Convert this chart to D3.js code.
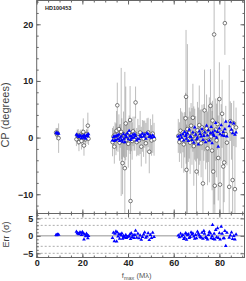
<!DOCTYPE html>
<html>
<head>
<meta charset="utf-8">
<script src="https://cdn.jsdelivr.net/npm/d3@7"></script>
<style>
  body { margin: 0; background: #fff; }
  svg { display: block; }
</style>
</head>
<body>
<div id="chart"></div>
<script>
const width = 246, height = 281
const plotLeft = 36.7, plotRight = 244.5
const mainTop = 0.5, mainBottom = 213.5, errBottom = 257.5
const axisColor = "#666"
const fontFamily = "'Liberation Sans', Arial, sans-serif"

// spatial frequency f_max (M lambda) for each closure phase
const fmax = [
  8.5, 8.8, 9.1, 9.6,
  17.4, 17.8, 18.2, 18.5, 18.9, 19.3, 19.6, 20.0, 20.4, 20.7, 21.0, 21.4, 21.8, 22.1, 22.4, 22.7,
  33.2, 33.6, 34.0, 34.3, 34.7, 35.0, 35.3, 35.6, 36.0, 36.3,
  36.6, 37.0, 37.3, 37.6, 38.0, 38.3, 38.6, 39.0, 39.3, 39.7,
  40.1, 40.5, 40.9, 41.1, 41.4, 41.8, 42.2, 42.6, 43.0, 43.3,
  43.8, 44.3, 44.8, 45.3, 45.8, 46.3, 46.8, 47.3, 47.8, 48.3,
  48.8, 49.3, 49.8, 50.3, 50.8, 51.4,
  62.0, 62.5, 63.0, 63.5, 64.0, 64.4, 64.8, 65.2, 65.4, 65.6,
  66.0, 66.4, 66.8, 67.2, 67.6, 68.0, 68.4, 68.8, 69.2, 69.6,
  70.0, 70.4, 70.8, 71.2, 71.6, 72.0, 72.4, 72.8, 73.2, 73.5,
  74.0, 74.4, 74.8, 75.2, 75.6, 76.1, 76.4, 76.8, 77.0, 77.3,
  77.7, 78.0, 78.4, 78.8, 79.2, 79.5, 80.0, 80.3, 80.8, 81.2,
  81.7, 82.1, 82.4, 82.8, 83.3, 84.3, 84.8, 85.3, 85.8, 86.3,
  86.8, 87.3
]

// observed closure phase (degrees)
const cpObs = [
  0.9, 0.6, 0.8, -0.1,
  -0.3, 0.4, 0.1, -0.8, 0.1, 0.5, -0.6, 0.3, 1.0, -1.4, 0.2, -0.3, 0.6, 0.1, 2.1, -0.2,
  -0.8, 0.2, -1.6, 0.5, -0.3, 1.2, 5.7, -0.5, 1.5, -0.9,
  0.3, 1.0, -0.2, -4.5, 0.6, -0.7, -5.4, 2.5, -0.4, 0.2,
  -1.1, 0.8, 3.1, -11.2, 0.4, -0.6, 1.1, -0.3, 0.7, 6.2,
  -0.8, 0.1, -0.5, 0.9, -1.6, 0.3, -0.2, 0.6, -1.0, 0.4,
  0.9, -2.5, 0.2, -0.5, 0.7, -0.3,
  0.3, -0.8, 1.2, -0.4, 0.9, -1.2, 0.5, 3.4, 7.2, -5.7,
  1.5, -0.3, 0.8, -0.9, 2.1, 0.2, 3.5, -1.5, 0.6, -0.2,
  -6.0, 1.3, -0.7, 2.2, 0.4, -1.0, 1.8, -8.1, 0.9, 4.8,
  -0.6, 1.6, -1.9, 0.7, -0.4, 5.6, 0.2, -2.3, 3.0, -6.0,
  18.2, -8.5, 1.4, -0.5, 2.4, -3.6, 6.8, -8.3, 0.9, 4.2,
  -5.1, -4.4, 20.2, 0.6, -0.9, -8.7, 2.9, 1.1, -7.5, 2.5,
  -9.1, 1.8
]

// 1-sigma error on observed closure phase (degrees)
const cpSig = [
  0.8, 1.0, 0.9, 2.6,
  1.2, 1.0, 1.4, 1.6, 1.1, 0.9, 1.5, 1.2, 2.4, 1.8, 1.0, 1.3, 0.9, 1.2, 2.3, 1.1,
  2.5, 1.8, 3.0, 2.2, 2.8, 3.5, 4.0, 2.0, 2.6, 3.2,
  2.1, 11.3, 3.6, 5.5, 4.0, 2.9, 17.0, 6.5, 3.0, 2.4,
  4.2, 3.1, 6.0, 11.5, 2.8, 3.3, 2.6, 2.0, 3.0, 2.8,
  2.5, 3.2, 2.7, 3.8, 3.5, 2.8, 3.2, 2.4, 3.6, 3.0,
  2.6, 3.8, 3.1, 2.7, 3.4, 2.9,
  3.0, 3.5, 4.0, 5.0, 3.5, 5.0, 4.0, 4.5, 11.8, 8.0,
  15.0, 4.0, 4.5, 5.5, 4.0, 5.0, 6.0, 7.0, 4.5, 4.0,
  7.5, 5.0, 6.0, 7.0, 4.5, 6.0, 4.0, 9.5, 5.0, 7.2,
  5.0, 6.0, 6.5, 5.0, 7.5, 6.5, 6.0, 7.0, 3.5, 9.5,
  30.0, 10.0, 5.5, 6.5, 4.5, 7.5, 6.5, 9.0, 5.0, 6.0,
  8.5, 7.0, 5.6, 5.0, 4.0, 21.5, 3.5, 5.0, 9.0, 4.0,
  10.0, 3.5
]

// model closure phase (degrees)
const cpModel = [
  0.85, 0.75, 0.8, 0.7,
  0.5, 0.4, 0.2, 0.1, 0.4, 0.3, -0.1, 0.2, 0.3, 0.0, 0.4, -0.2, 0.3, 0.5, 0.2, 0.6,
  -0.5, 0.1, -0.6, 0.3, -0.4, 0.2, 0.4, -0.3, 0.5, -0.6,
  0.0, 0.2, -0.4, -0.7, 0.6, -0.2, -0.8, 0.4, 0.1, 0.8,
  -0.3, 1.2, 0.3, -0.4, 0.2, -0.1, 0.5, 0.0, 0.6, 0.3,
  -0.5, -0.2, -0.3, 0.4, 0.1, 0.7, 0.2, 0.5, -0.2, 0.8,
  0.6, 0.1, 0.3, 0.0, 0.4, 0.1,
  0.2, -0.3, 0.4, 0.0, 0.6, -0.5, 1.0, 0.3, 0.5, -0.2,
  0.8, -0.6, 1.4, 0.2, 0.1, -0.4, 0.9, -0.9, 1.8, 0.5,
  -0.3, 0.0, -1.2, 1.1, 0.6, 0.2, 1.5, -0.4, 0.3, 0.9,
  -0.8, 2.1, 0.4, 1.3, -0.5, 0.8, 1.9, -1.0, 0.9, 0.5,
  0.3, 1.2, 2.6, 0.0, 1.0, -1.6, 1.6, 0.6, 2.2, 0.4,
  1.0, 0.3, 1.5, 2.8, 0.2, 2.0, 2.7, 1.4, 0.8, 2.5,
  0.5, 0.9
]

// residuals (sigma)
const cpResid = [
  0.3, 0.2, 0.4, 0.35,
  1.2, 0.8, 0.6, 0.5, 1.0, 0.9, 0.3, 1.1, 0.7, -1.0, 0.4, -0.1, 0.6, 0.2, -0.7, 0.0,
  -0.6, 0.9, -1.5, 0.6, 1.3, -1.6, 1.0, -0.2, 0.5, -0.8,
  0.4, 0.1, 0.7, -0.8, 0.0, -0.5, -0.3, 0.3, -0.6, -0.3,
  -0.2, -0.1, 0.5, -0.9, 0.8, -0.4, 0.2, -0.6, 0.3, 1.5,
  -0.5, 0.6, -0.7, 0.1, -1.1, -0.3, 0.4, 1.0, -0.5, -0.2,
  0.8, -1.2, 0.3, -0.6, 0.9, -0.3,
  0.1, -0.4, 0.6, -0.2, 0.3, -0.9, -0.5, 0.8, 0.6, -1.1,
  0.2, 0.5, -0.6, -0.3, 1.0, 0.4, 0.7, -0.2, -0.8, 0.3,
  -0.7, 1.2, 0.6, 0.1, -0.3, -0.5, 0.9, -0.8, 1.4, 0.6,
  -0.4, -0.6, -1.0, 0.3, 1.1, 0.7, -0.7, -0.1, 3.1, -0.9,
  0.6, -1.0, 1.7, -0.4, 2.2, -0.6, 0.8, -1.0, 2.6, 0.6,
  -0.7, -0.7, 1.4, -2.9, 0.9, -0.5, 0.1, 1.0, -0.9, 0.0,
  -1.0, 0.4
]

const xTicks = [0, 20, 40, 60, 80]
const cpTicks = [-10, 0, 10, 20]
const errTicks = [-5, 0, 5]
const errLevels = [-5, -3, 3, 5]
const title = "HD100453"

const points = fmax.map((f, i) => ({
  f: f, obs: cpObs[i], sig: cpSig[i], model: cpModel[i], resid: cpResid[i]
}))

const xScale = d3.scaleLinear().domain([0, 91]).range([plotLeft, plotRight])
const yScale = d3.scaleLinear().domain([-13.4, 24.2]).range([mainBottom, mainTop])
const eScale = d3.scaleLinear().domain([-6.2, 6.4]).range([errBottom, mainBottom])

const svg = d3.select("#chart").append("svg")
  .attr("width", width)
  .attr("height", height)

const defs = svg.append("defs")
defs.append("clipPath").attr("id", "clipMain").append("rect")
  .attr("x", plotLeft).attr("y", mainTop)
  .attr("width", plotRight - plotLeft).attr("height", mainBottom - mainTop)
defs.append("clipPath").attr("id", "clipErr").append("rect")
  .attr("x", plotLeft).attr("y", mainBottom)
  .attr("width", plotRight - plotLeft).attr("height", errBottom - mainBottom)

function addAxis(axis, tx, ty) {
  const g = svg.append("g")
    .attr("transform", "translate(" + tx + "," + ty + ")")
    .call(axis)
  g.select(".domain").remove()
  g.attr("font-family", fontFamily).attr("font-size", 9).attr("font-weight", "bold")
  g.selectAll(".tick line").attr("stroke", axisColor)
  g.selectAll(".tick text").attr("fill", "#222")
  return g
}

const noLabel = () => ""

// ---- main panel ----
const mainG = svg.append("g").attr("clip-path", "url(#clipMain)")

mainG.selectAll(".ebar").data(points).enter().append("line")
  .attr("x1", d => xScale(d.f)).attr("x2", d => xScale(d.f))
  .attr("y1", d => yScale(d.obs - d.sig)).attr("y2", d => yScale(d.obs + d.sig))
  .attr("stroke", "#5a5a5a").attr("stroke-opacity", 0.4).attr("stroke-width", 1)

mainG.selectAll(".obs").data(points).enter().append("circle")
  .attr("cx", d => xScale(d.f)).attr("cy", d => yScale(d.obs))
  .attr("r", 1.8)
  .attr("fill", "#fff").attr("stroke", "#444").attr("stroke-width", 0.7)

const tri = d3.symbol().type(d3.symbolTriangle).size(6)
mainG.selectAll(".model").data(points).enter().append("path")
  .attr("d", tri)
  .attr("transform", d => "translate(" + xScale(d.f) + "," + yScale(d.model) + ")")
  .attr("fill", "#0000ff")

// ---- residual panel ----
const errG = svg.append("g").attr("clip-path", "url(#clipErr)")
errG.selectAll(".lev").data(errLevels).enter().append("line")
  .attr("x1", plotLeft).attr("x2", plotRight)
  .attr("y1", d => eScale(d)).attr("y2", d => eScale(d))
  .attr("stroke", "#888").attr("stroke-width", 0.7).attr("stroke-dasharray", "2,2")
errG.append("line")
  .attr("x1", plotLeft).attr("x2", plotRight)
  .attr("y1", eScale(0)).attr("y2", eScale(0))
  .attr("stroke", "#777").attr("stroke-width", 0.8)
errG.selectAll(".res").data(points).enter().append("path")
  .attr("d", tri)
  .attr("transform", d => "translate(" + xScale(d.f) + "," + eScale(d.resid) + ")")
  .attr("fill", "#0000ff")

// ---- frames ----
svg.append("rect")
  .attr("x", plotLeft).attr("y", mainTop)
  .attr("width", plotRight - plotLeft).attr("height", mainBottom - mainTop)
  .attr("fill", "none").attr("stroke", axisColor)
svg.append("rect")
  .attr("x", plotLeft).attr("y", mainBottom)
  .attr("width", plotRight - plotLeft).attr("height", errBottom - mainBottom)
  .attr("fill", "none").attr("stroke", axisColor)

// ---- axes, main panel ----
const xMinor = d3.range(0, 91, 5)
const cpMinor = d3.range(-12, 25, 2)
const errMinor = d3.range(-6, 7, 1)

addAxis(d3.axisLeft(yScale).tickValues(cpTicks).tickSize(-4).tickPadding(3.5), plotLeft, 0)
addAxis(d3.axisLeft(yScale).tickValues(cpMinor).tickSize(-2).tickFormat(noLabel), plotLeft, 0)
addAxis(d3.axisRight(yScale).tickValues(cpTicks).tickSize(-4).tickFormat(noLabel), plotRight, 0)
addAxis(d3.axisRight(yScale).tickValues(cpMinor).tickSize(-2).tickFormat(noLabel), plotRight, 0)
addAxis(d3.axisTop(xScale).tickValues(xTicks).tickSize(-4).tickFormat(noLabel), 0, mainTop)
addAxis(d3.axisTop(xScale).tickValues(xMinor).tickSize(-2).tickFormat(noLabel), 0, mainTop)
addAxis(d3.axisBottom(xScale).tickValues(xTicks).tickSize(-4).tickFormat(noLabel), 0, mainBottom)
addAxis(d3.axisBottom(xScale).tickValues(xMinor).tickSize(-2).tickFormat(noLabel), 0, mainBottom)

// ---- axes, residual panel ----
addAxis(d3.axisLeft(eScale).tickValues(errTicks).tickSize(-4).tickPadding(3.5), plotLeft, 0)
addAxis(d3.axisLeft(eScale).tickValues(errMinor).tickSize(-2).tickFormat(noLabel), plotLeft, 0)
addAxis(d3.axisRight(eScale).tickValues(errTicks).tickSize(-4).tickFormat(noLabel), plotRight, 0)
addAxis(d3.axisTop(xScale).tickValues(xTicks).tickSize(-4).tickFormat(noLabel), 0, mainBottom)
addAxis(d3.axisTop(xScale).tickValues(xMinor).tickSize(-2).tickFormat(noLabel), 0, mainBottom)
addAxis(d3.axisBottom(xScale).tickValues(xTicks).tickSize(-4).tickPadding(2.5).tickFormat(d3.format("d")), 0, errBottom)
addAxis(d3.axisBottom(xScale).tickValues(xMinor).tickSize(-2).tickFormat(noLabel), 0, errBottom)

// ---- labels ----
svg.append("text")
  .attr("x", 45).attr("y", 10)
  .attr("font-family", fontFamily).attr("font-size", 5.5).attr("font-weight", "bold")
  .attr("fill", "#222")
  .text(title)

svg.append("text")
  .attr("transform", "translate(9," + ((mainTop + mainBottom) / 2 + 8) + ") rotate(-90)")
  .attr("text-anchor", "middle")
  .attr("font-family", fontFamily).attr("font-size", 11)
  .attr("fill", "#444")
  .text("CP (degrees)")

svg.append("text")
  .attr("transform", "translate(9," + ((mainBottom + errBottom) / 2 - 1) + ") rotate(-90)")
  .attr("text-anchor", "middle")
  .attr("font-family", fontFamily).attr("font-size", 9)
  .attr("fill", "#444")
  .text("Err (σ)")

const xl = svg.append("text")
  .attr("x", (plotLeft + plotRight) / 2 - 4).attr("y", 278)
  .attr("text-anchor", "middle")
  .attr("font-family", fontFamily).attr("font-size", 7.5)
  .attr("fill", "#555")
xl.append("tspan").text("f")
xl.append("tspan").attr("font-size", 5.5).attr("dy", 1.5).text("max")
xl.append("tspan").attr("dy", -1.5).text(" (Mλ)")
</script>
</body>
</html>
